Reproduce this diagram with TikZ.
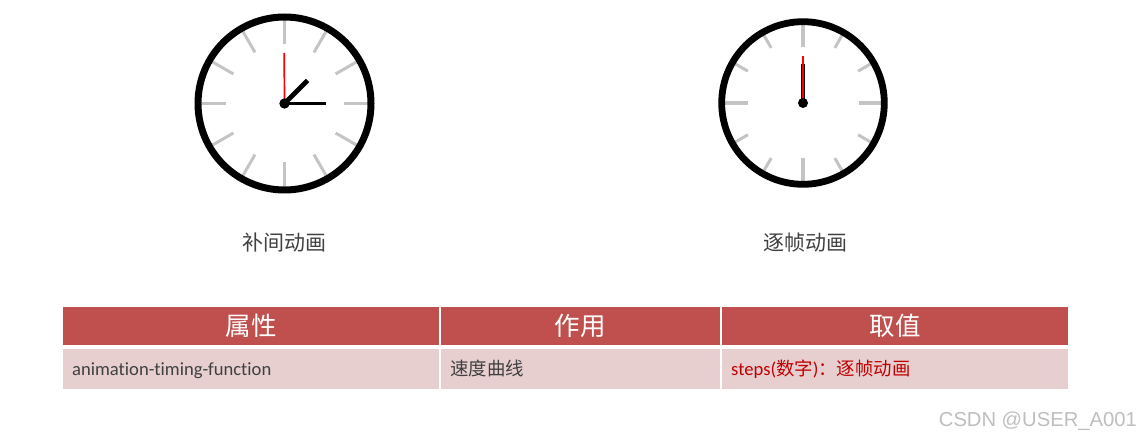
\documentclass[tikz,border=0pt]{standalone}
\usepackage{fontspec}
\setmainfont[Ligatures=NoCommon]{Carlito}
\newfontfamily\cjkfont{Noto Sans CJK SC}
\newfontfamily\markfont{Liberation Sans}
\usetikzlibrary{positioning,calc}
\definecolor{headRed}{RGB}{192,80,77}
\definecolor{rowPink}{RGB}{231,207,208}
\definecolor{tickGrey}{RGB}{196,196,196}
\definecolor{textGrey}{RGB}{64,64,64}
\definecolor{valueRed}{RGB}{192,0,0}
\definecolor{markGrey}{RGB}{190,190,190}
\tikzset{
	clockring/.style={draw=black},
	headcell/.style={font=\cjkfont\fontsize{25.5}{28}\selectfont,text=white},
	rowcell/.style={anchor=base west,inner sep=0pt,text=textGrey},
	clockcap/.style={font=\cjkfont\fontsize{21}{24}\selectfont,text=textGrey},
}
\newcommand{\hourtick}[4]{\draw[tickGrey,line width=#4] (#1) ++(#2:#3) -- ++(#2:24);}
\newcommand{\minortick}[2]{\draw[tickGrey,line width=3] (#1) ++(#2:63.6) -- ++(#2:15.4);}
\newcommand{\cellfill}[3]{\fill[#1] #2 rectangle #3;}

\begin{document}
\begin{tikzpicture}[x=1pt,y=-1pt]
	\useasboundingbox (0,0) rectangle (1141,438);
	\coordinate (clockA) at (284.5,103.5);
	\coordinate (clockB) at (803,103);
	% tween clock
	\hourtick{clockA}{0}{59}{3} \hourtick{clockA}{30}{59}{3} \hourtick{clockA}{60}{59}{3} \hourtick{clockA}{90}{59}{3}
	\hourtick{clockA}{120}{59}{3} \hourtick{clockA}{150}{59}{3} \hourtick{clockA}{180}{59}{3} \hourtick{clockA}{210}{59}{3}
	\hourtick{clockA}{240}{59}{3} \hourtick{clockA}{270}{59}{3} \hourtick{clockA}{300}{59}{3} \hourtick{clockA}{330}{59}{3}
	\draw[clockring,line width=7] (clockA) circle (86.5);
	\draw[red,line width=1.7] (clockA) -- (284.2,53);
	\draw[black,line width=4.8] (clockA) -- ++(23,-23);
	\draw[black,line width=3.4] (clockA) -- ++(41.7,0);
	\fill[black] (clockA) circle (5.2);
	% frame clock
	\hourtick{clockB}{0}{55.5}{3.8} \hourtick{clockB}{90}{55.5}{3.4} \hourtick{clockB}{180}{55.5}{3.8} \hourtick{clockB}{270}{55.5}{3.4}
	\minortick{clockB}{30} \minortick{clockB}{60} \minortick{clockB}{120} \minortick{clockB}{150}
	\minortick{clockB}{210} \minortick{clockB}{240} \minortick{clockB}{300} \minortick{clockB}{330}
	\draw[clockring,line width=6.8] (clockB) circle (81.3);
	\draw[black,line width=4.8] (clockB) -- ++(0,-31.3);
	\draw[black,line width=3.2] (clockB) -- ++(0,-39.3);
	\draw[red,line width=1.7] (clockB) -- ++(0,-47.3);
	\fill[black] (clockB) circle (5);
	\node[clockcap] (capA) at (284,243) {补间动画};
	\node[clockcap] (capB) at (805,243) {逐帧动画};
	% table
	\cellfill{headRed}{(63,307)}{(439,345)} \cellfill{headRed}{(441,307)}{(720,345)} \cellfill{headRed}{(722,307)}{(1068,345)}
	\cellfill{rowPink}{(63,349)}{(439,388.7)} \cellfill{rowPink}{(441,349)}{(720,388.7)} \cellfill{rowPink}{(722,349)}{(1068,388.7)}
	\node[headcell] (headA) at (251,326) {属性};
	\node[headcell] (headB) at (580,326) {作用};
	\node[headcell] (headC) at (895,326) {取值};
	\node[rowcell,font=\fontsize{18.6}{22}\selectfont] (cellA) at (72,375) {animation-timing-function};
	\node[rowcell,font=\cjkfont\fontsize{18.4}{22}\selectfont] (cellB) at (450,375) {速度曲线};
	\node[rowcell,text=valueRed,font=\fontsize{18.6}{22}\selectfont] (cellC) at (731,375) {steps({\cjkfont\fontsize{18.4}{22}\selectfont 数字}){\cjkfont\fontsize{18.4}{22}\selectfont ：逐帧动画}};
	\node[anchor=base east,inner sep=0pt,text=markGrey,font=\markfont\fontsize{20.2}{24}\selectfont] (mark) at (1137,426.5) {CSDN @USER\_A001};
\end{tikzpicture}
\end{document}
